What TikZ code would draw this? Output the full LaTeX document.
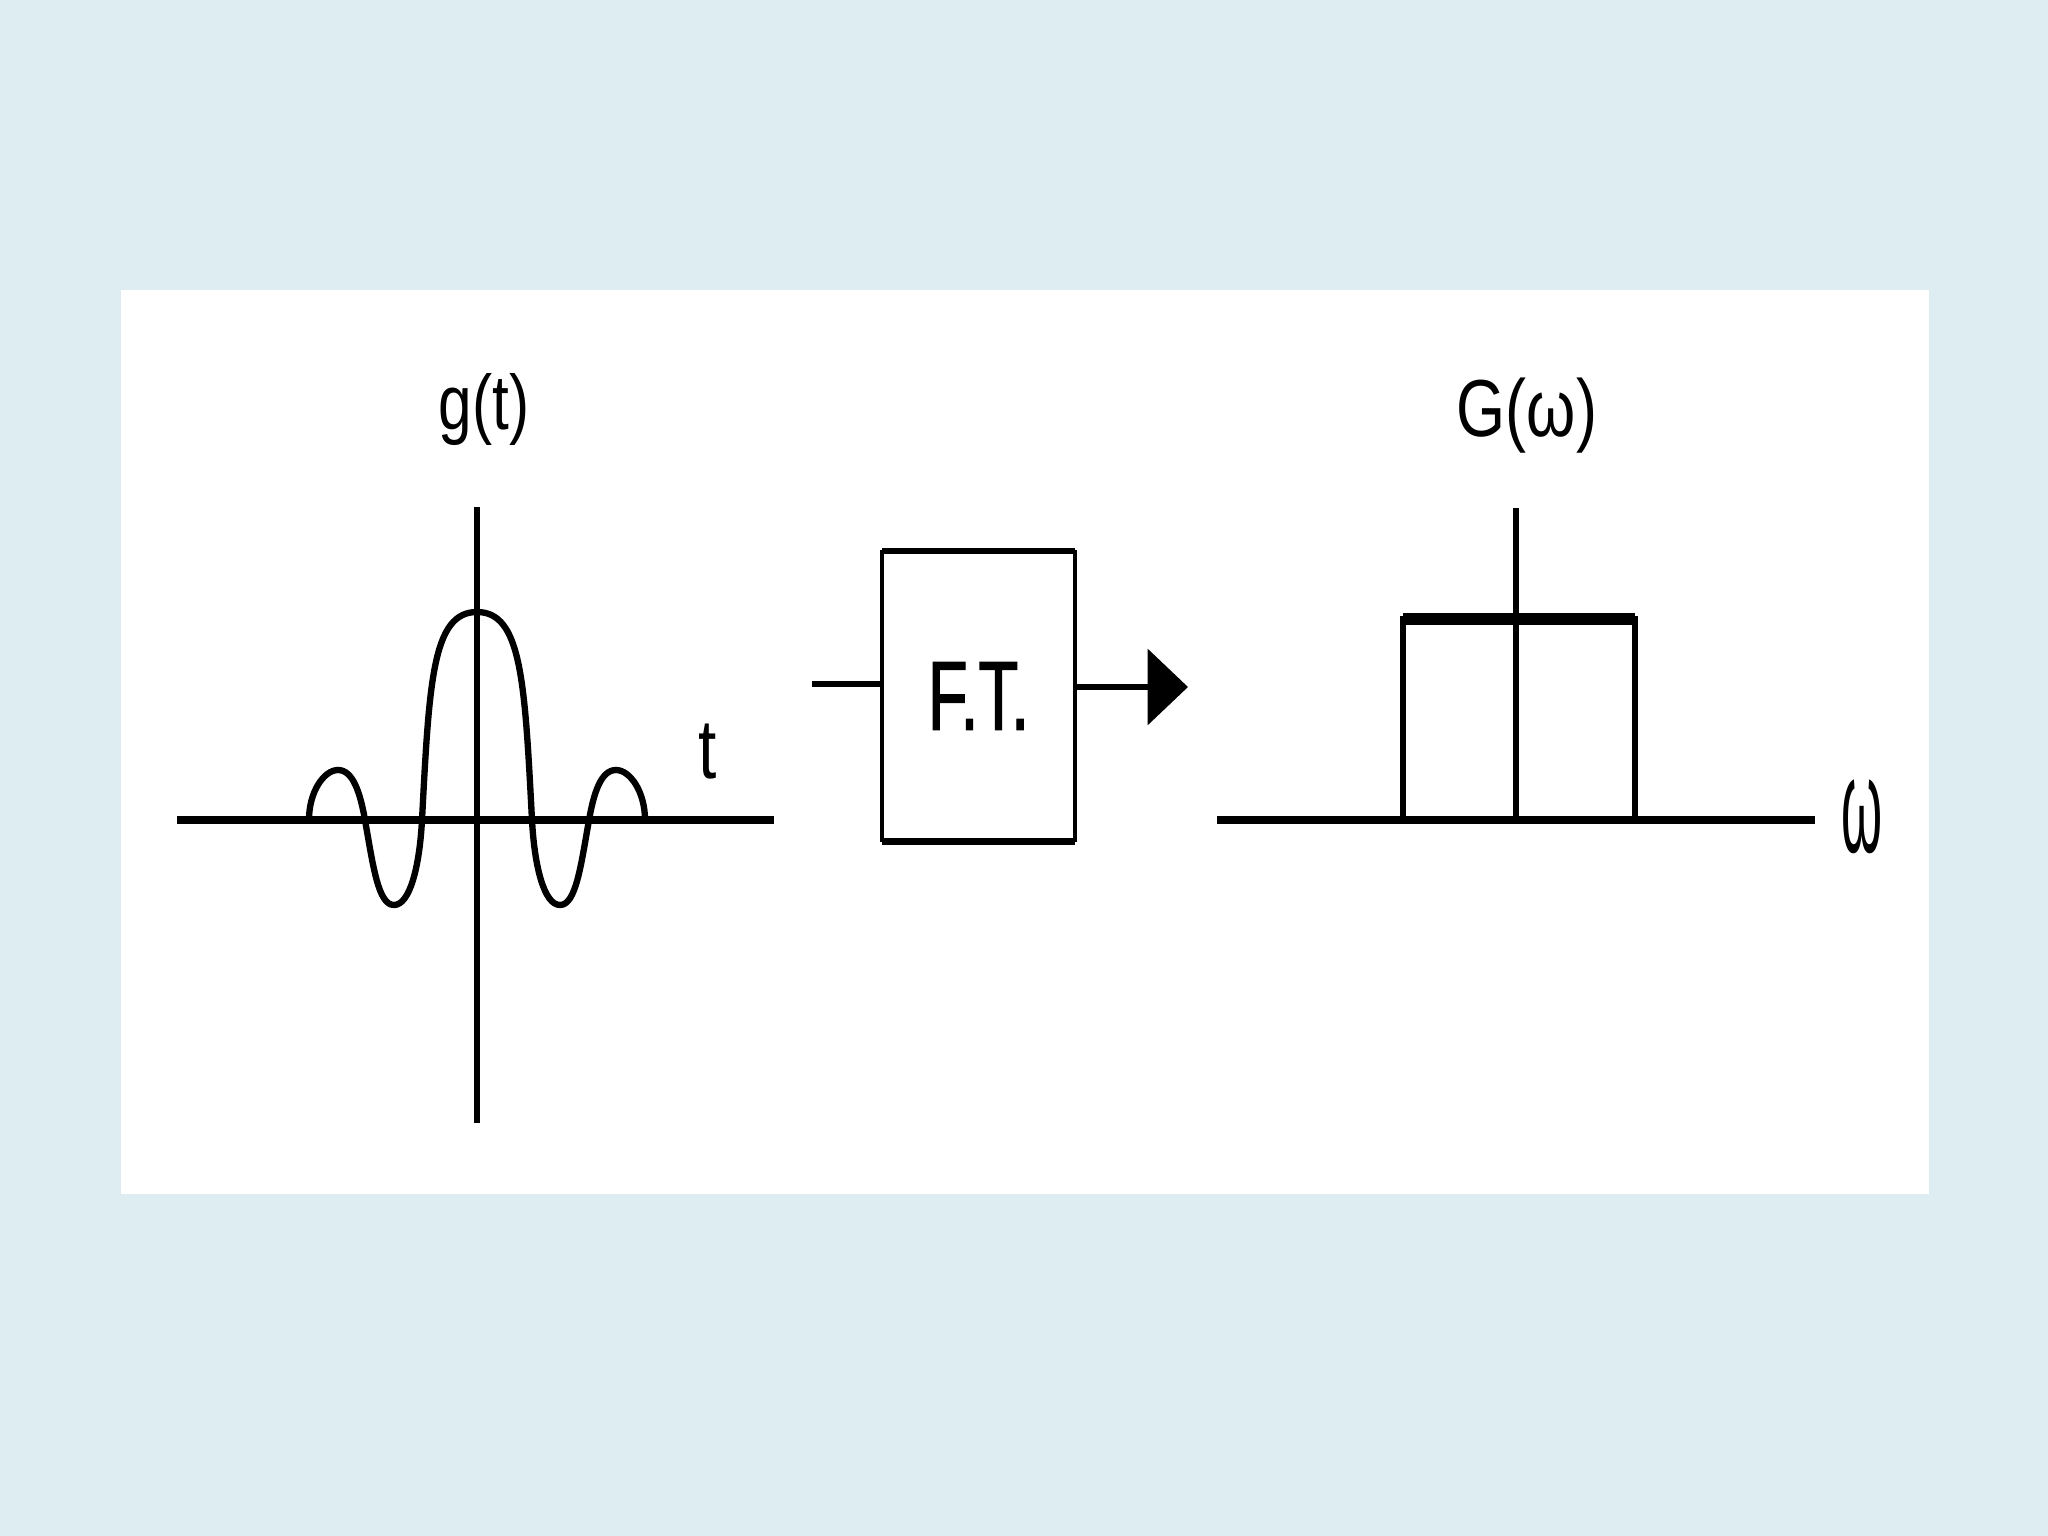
\documentclass[tikz,border=0pt]{standalone}
\usepackage{fontspec}
\usepackage{xcolor}
\usepackage{tikz}
\usetikzlibrary{arrows.meta}
\usetikzlibrary{backgrounds,calc}
\newfontfamily\lblfont[FakeStretch=0.78]{Liberation Sans}
\newfontfamily\ftfont[FakeStretch=0.66,FakeBold=1.2]{Liberation Sans}
\pgfdeclarelayer{edgelayer}
\pgfdeclarelayer{nodelayer}
\pgfsetlayers{background,edgelayer,nodelayer,main}
\definecolor{slide}{RGB}{221,237,241}
\tikzstyle{none}=[inner sep=0mm]
\tikzstyle{lbl}=[inner sep=0mm,font={\lblfont\fontsize{22}{26}\selectfont}]
\tikzstyle{biglbl}=[lbl,font={\lblfont\fontsize{24}{28}\selectfont}]
\tikzstyle{ftbox}=[draw=black,line width=1.4pt,fill=white,outer sep=0pt,inner sep=0mm,minimum width=1.93cm,minimum height=2.88cm,font={\ftfont\fontsize{28}{32}\selectfont}]
\tikzstyle{ax}=[line width=2.1pt]
\tikzstyle{vax}=[line width=1.5pt]
\tikzstyle{curve}=[line width=1.8pt]
\tikzstyle{conn}=[line width=1.5pt]
\tikzstyle{diredge}=[conn,-{Triangle[length=11.5pt,width=21.5pt]}]

\begin{document}
\begin{tikzpicture}
	\begin{pgfonlayer}{background}
		\fill [slide] (0, 0) rectangle (20.48, -15.36);
		\fill [white] (1.21, -2.9) rectangle (19.29, -11.94);
	\end{pgfonlayer}
	\begin{pgfonlayer}{nodelayer}
		% time domain
		\node [style=none] (t0) at (1.77, -8.2) {};
		\node [style=none] (t1) at (7.74, -8.2) {};
		\node [style=none] (g0) at (4.77, -11.23) {};
		\node [style=none] (g1) at (4.77, -5.07) {};
		\node [style=none] (s0) at (3.09, -8.2) {};
		\node [style=none] (s1) at (3.38, -7.7) {};
		\node [style=none] (s2) at (3.65, -8.2) {};
		\node [style=none] (s3) at (3.94, -9.05) {};
		\node [style=none] (s4) at (4.22, -8.2) {};
		\node [style=none] (s5) at (4.77, -6.12) {};
		\node [style=none] (s6) at (5.32, -8.2) {};
		\node [style=none] (s7) at (5.6, -9.05) {};
		\node [style=none] (s8) at (5.89, -8.2) {};
		\node [style=none] (s9) at (6.16, -7.7) {};
		\node [style=none] (s10) at (6.45, -8.2) {};
		\node [style=lbl] (gt) at (4.84, -4.1) {g(t)};
		\node [style=biglbl] (tl) at (7.08, -7.52) {t};
		% transform block
		\node [style=ftbox] (ft) at (9.785, -6.96) {F.T.};
		\node [style=none] (fin) at (8.12, -6.84) {};
		\node [style=none] (fout) at (11.88, -6.87) {};
		% frequency domain
		\node [style=none] (w0) at (12.17, -8.2) {};
		\node [style=none] (w1) at (18.15, -8.2) {};
		\node [style=none] (v0) at (15.16, -8.2) {};
		\node [style=none] (v1) at (15.16, -5.08) {};
		\node [style=none] (r0) at (14.03, -8.2) {};
		\node [style=none] (r1) at (14.03, -6.19) {};
		\node [style=none] (r2) at (16.35, -6.19) {};
		\node [style=none] (r3) at (16.35, -8.2) {};
		\node [style=lbl,font={\lblfont\fontsize{23}{27}\selectfont}] (gw) at (15.27, -4.16) {G(ω)};
		\node [style=biglbl,xscale=0.8,yscale=1.6,transform shape] (wl) at (18.62, -8.17) {ω};
	\end{pgfonlayer}
	\begin{pgfonlayer}{edgelayer}
		\draw [style=ax] (t0.center) to (t1.center);
		\draw [style=vax] (g0.center) to (g1.center);
		\draw [style=curve] (s0.center)
			to [out=90, in=180, out looseness=1.27, in looseness=0.61] (s1.center)
			to [out=0, in=100, out looseness=0.68, in looseness=1.23] (s2.center)
			to [out=-80, in=180, out looseness=1.35, in looseness=0.45] (s3.center)
			to [out=0, in=-93, out looseness=0.45, in looseness=1.35] (s4.center)
			to [out=87, in=180, out looseness=1.65, in looseness=0.53] (s5.center)
			to [out=0, in=93, out looseness=0.53, in looseness=1.65] (s6.center)
			to [out=-87, in=180, out looseness=1.35, in looseness=0.45] (s7.center)
			to [out=0, in=-100, out looseness=0.45, in looseness=1.35] (s8.center)
			to [out=80, in=180, out looseness=1.23, in looseness=0.68] (s9.center)
			to [out=0, in=90, out looseness=0.61, in looseness=1.27] (s10.center);
		\draw [style=conn] (fin.center) to (fin.center -| ft.west);
		\draw [style=diredge] (ft.east |- fout.center) to (fout.center);
		\draw [line width=2pt] (ft.north west) to (ft.north east);
		\draw [line width=2.8pt] (ft.south west) to (ft.south east);
		\draw [style=ax] (w0.center) to (w1.center);
		\draw [style=vax] (v0.center) to (v1.center);
		\draw [style=vax] (r0.center) to (r1.center) to (r2.center) to (r3.center);
		\draw [line width=3.2pt] (r1.center) to (r2.center);
	\end{pgfonlayer}
\end{tikzpicture}
\end{document}
